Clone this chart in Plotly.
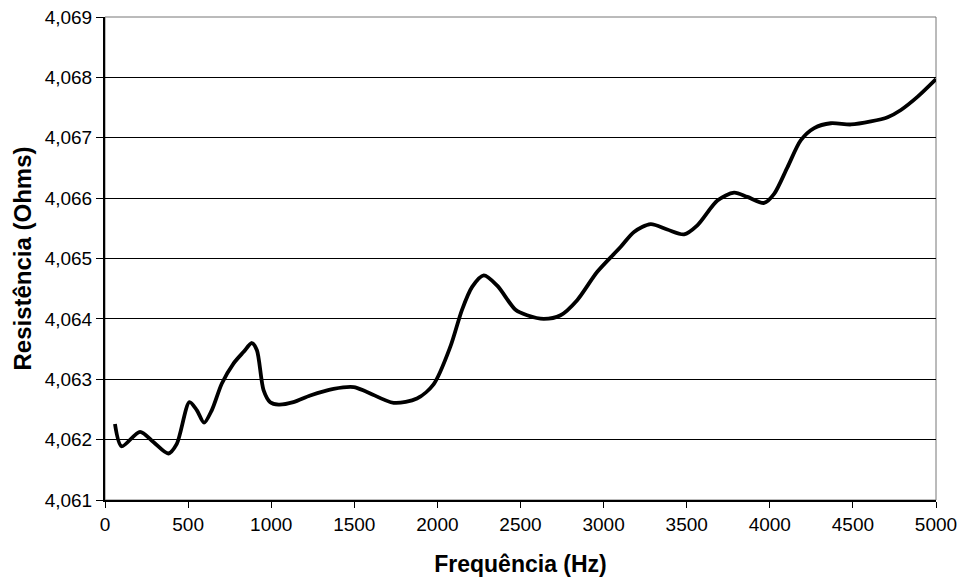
import plotly.graph_objects as go

# Measured resistance versus frequency
frequencia_hz = [60, 100, 211, 291, 381, 432, 508, 552, 596, 643, 703, 773, 833, 884, 914,
                 954, 994, 1044, 1134, 1235, 1375, 1496, 1576, 1737, 1877, 1978, 2078, 2148,
                 2209, 2279, 2360, 2470, 2540, 2640, 2741, 2841, 2962, 3102, 3183, 3283, 3383,
                 3484, 3564, 3685, 3785, 3865, 3966, 4026, 4106, 4187, 4267, 4367, 4488, 4608,
                 4709, 4789, 4890, 5000]
resistencia_ohms = [4.06226, 4.06189, 4.06213, 4.06196, 4.06177, 4.06193, 4.06262, 4.06249,
                    4.06228, 4.06249, 4.06293, 4.06326, 4.06345, 4.06360, 4.06348, 4.06282,
                    4.06262, 4.06258, 4.06262, 4.06273, 4.06284, 4.06287, 4.06279, 4.06261,
                    4.06268, 4.06292, 4.06354, 4.06415, 4.06453, 4.06472, 4.06455, 4.06415,
                    4.06406, 4.06400, 4.06406, 4.06431, 4.06478, 4.06519, 4.06544, 4.06557,
                    4.06548, 4.06540, 4.06555, 4.06596, 4.06609, 4.06602, 4.06592, 4.06607,
                    4.06651, 4.06696, 4.06716, 4.06724, 4.06722, 4.06727, 4.06734, 4.06746,
                    4.06768, 4.06797]

fig = go.Figure()
fig.add_trace(go.Scatter(
    x=frequencia_hz, y=resistencia_ohms, mode="lines",
    line=dict(color="black", width=3.8, shape="spline", smoothing=0.8),
    showlegend=False, hoverinfo="x+y",
))

tick_font = dict(family="Liberation Sans, Arial, sans-serif", size=19, color="black")
xtitle_font = dict(family="Liberation Sans, Arial, sans-serif", size=23, color="black")
ytitle_font = dict(family="Liberation Sans, Arial, sans-serif", size=24, color="black")

fig.update_layout(
    width=962, height=578,
    margin=dict(l=105, r=26, t=17, b=78, autoexpand=False),
    paper_bgcolor="white", plot_bgcolor="white",
    separators=",.",
    xaxis=dict(
        range=[0, 5000], dtick=500, tick0=0,
        showgrid=False, zeroline=False, automargin=False,
        showline=True, linecolor="black", linewidth=2,
        ticks="outside", ticklen=6, tickcolor="black",
        tickfont=tick_font,
        title=dict(text="<b>Frequência (Hz)</b>", font=xtitle_font, standoff=22),
    ),
    yaxis=dict(
        range=[4.061, 4.069], dtick=0.001, tickformat=".3f",
        showgrid=True, gridcolor="black", gridwidth=1,
        zeroline=False, automargin=False,
        showline=True, linecolor="black", linewidth=2,
        ticks="outside", ticklen=7, tickcolor="black",
        tickfont=tick_font,
        title=dict(text="<b>Resistência (Ohms)</b>", font=ytitle_font, standoff=6),
    ),
)

# Plot frame on the right and top edges
fig.add_shape(type="rect", xref="paper", yref="paper", x0=0, y0=0, x1=1, y1=1,
              line=dict(color="#777777", width=1), layer="below")

fig.write_html("out.html")
